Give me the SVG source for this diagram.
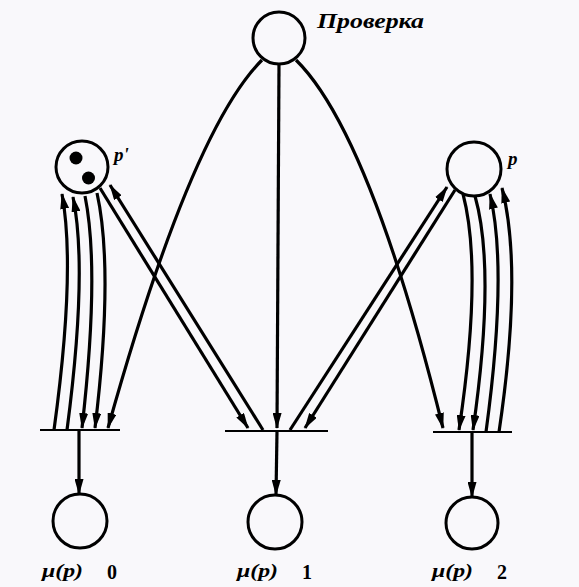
<svg xmlns="http://www.w3.org/2000/svg" width="579" height="587" viewBox="0 0 579 587">
<defs>
<style>
.c{fill:none;stroke:#000;stroke-width:3}
.arc{fill:none;stroke:#000;stroke-width:3.2}
.bar{stroke:#000;stroke-width:2.2}
.tk{fill:#000}
.lbl{font-family:"Liberation Serif",serif;font-weight:bold;font-style:italic;fill:#000}
.num{font-family:"Liberation Serif",serif;font-weight:bold;fill:#000;font-size:20px}
</style>
<marker id="ah" viewBox="0 0 16 9" refX="15" refY="4.5" markerWidth="16" markerHeight="9" markerUnits="userSpaceOnUse" orient="auto">
<path d="M0,0 L16,4.5 L0,9 Z" fill="#000"/>
</marker>
</defs>
<rect width="579" height="587" fill="#f9f8fb"/>
<g id="place-proverka">
<circle class="c" cx="279" cy="38" r="26"/>
<text class="lbl" x="317" y="28" font-size="21" textLength="107" lengthAdjust="spacingAndGlyphs">Проверка</text>
</g>
<g id="place-p-prime">
<circle class="c" cx="82" cy="167" r="26"/>
<circle class="tk" cx="76" cy="158" r="6.5"/>
<circle class="tk" cx="88.5" cy="178" r="6.5"/>
<text class="lbl" x="114" y="161" font-size="19">p'</text>
</g>
<g id="place-p">
<circle class="c" cx="474" cy="169" r="27"/>
<text class="lbl" x="508" y="165" font-size="19">p</text>
</g>
<g id="t0"><line class="bar" x1="40" y1="430" x2="120" y2="430"/></g>
<g id="t1"><line class="bar" x1="225" y1="431" x2="328" y2="431"/></g>
<g id="t2"><line class="bar" x1="433" y1="432" x2="512" y2="432"/></g>
<g id="out0">
<circle class="c" cx="80" cy="521" r="27"/>
<text class="lbl" x="42" y="577" font-size="19" textLength="41" lengthAdjust="spacingAndGlyphs">μ(p)</text>
<text class="num" x="107" y="579">0</text>
</g>
<g id="out1">
<circle class="c" cx="275" cy="522" r="27"/>
<text class="lbl" x="237" y="577" font-size="19" textLength="41" lengthAdjust="spacingAndGlyphs">μ(p)</text>
<text class="num" x="302" y="579">1</text>
</g>
<g id="out2">
<circle class="c" cx="472" cy="523" r="26"/>
<text class="lbl" x="432" y="577" font-size="19" textLength="41" lengthAdjust="spacingAndGlyphs">μ(p)</text>
<text class="num" x="497" y="579">2</text>
</g>
<g id="connectors" marker-end="url(#ah)">
<path class="arc" d="M54,430 Q76,270 62,194"/>
<path class="arc" d="M67,430 Q88,270 73,197"/>
<path class="arc" d="M85,196 Q100,270 82,428"/>
<path class="arc" d="M97,193 Q114,270 95,428"/>
<path class="arc" d="M463,194 Q483,270 459,430"/>
<path class="arc" d="M475,196 Q496,270 473,430"/>
<path class="arc" d="M486,432 Q508,270 490,194"/>
<path class="arc" d="M499,432 Q523,270 502,188"/>
<path class="arc" d="M100,188 L248,428"/>
<path class="arc" d="M263,430 L110,185"/>
<path class="arc" d="M455,190 L305,428"/>
<path class="arc" d="M290,430 L447,187"/>
<path class="arc" d="M262,60 Q191,131 108,428"/>
<path class="arc" d="M279,64 L277,428"/>
<path class="arc" d="M296,60 Q370,133 443,428"/>
<path class="arc" d="M79,431 L79,494"/>
<path class="arc" d="M277,431 L276,495"/>
<path class="arc" d="M472,432 L472,497"/>
</g>
</svg>
